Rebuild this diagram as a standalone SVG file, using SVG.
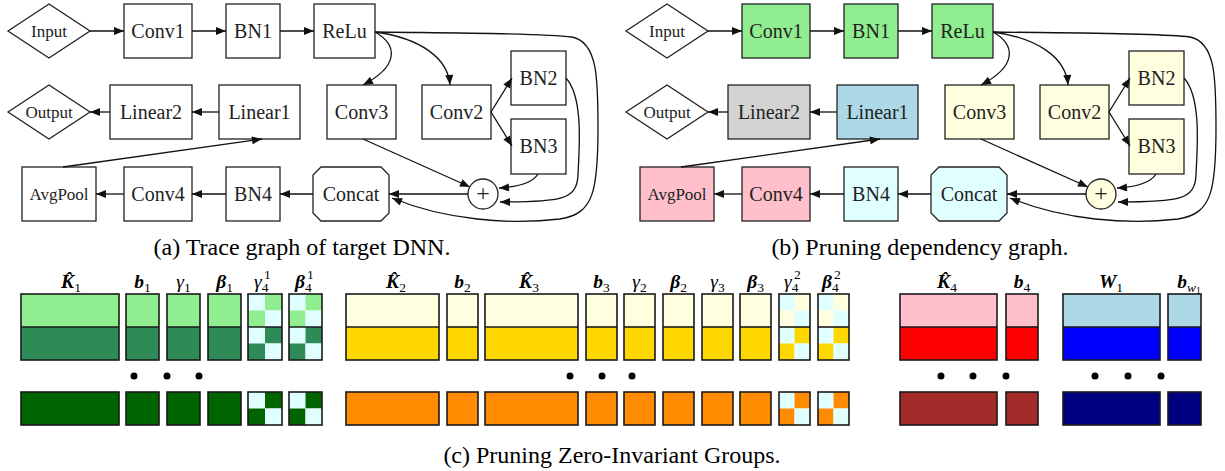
<svg xmlns="http://www.w3.org/2000/svg" width="1225" height="471" viewBox="0 0 1225 471">
<defs>
<style>
.n{stroke:#222;stroke-width:1.3;fill:#fff}
.t{font-family:"Liberation Serif","Times New Roman",serif;font-size:20px;text-anchor:middle;fill:#222}
.ts{font-size:17px}
.pl{font-size:24px}
.e{fill:none;stroke:#111;stroke-width:1.3;marker-end:url(#ah)}
.cap{font-family:"Liberation Serif","Times New Roman",serif;font-size:24px;text-anchor:middle;fill:#000}
.m{font-family:"Liberation Serif","Times New Roman",serif;font-size:19.5px;font-style:italic;fill:#000}
.bi{font-weight:bold}
.sub{font-size:13.5px;font-style:normal;font-weight:normal}
.blk{stroke:#1a1a1a;stroke-width:1.6;fill:none}
.dot{fill:#000}
.g1{fill:#90EE90}.g2{fill:#2E8B57}.g3{fill:#006400}
.y1{fill:#FFFFE0}.y2{fill:#FFD700}.y3{fill:#FF8C00}
.r1{fill:#FFC0CB}.r2{fill:#FF0000}.r3{fill:#A52A2A}
.b1{fill:#ADD8E6}.b2{fill:#0000FF}.b3{fill:#000080}
.c0{fill:#E0FFFF}
</style>
<marker id="ah" viewBox="0 0 10 8" markerWidth="11" markerHeight="8" refX="10" refY="4" orient="auto" markerUnits="userSpaceOnUse">
<path d="M0,0 L10,4 L0,8 z" fill="#111"/>
</marker>
</defs>
<rect width="1225" height="471" fill="#fff"/>

<!-- ===== Graph (a) ===== -->
<g id="graphA">
<g id="a_input"><polygon class="n" points="8,31 49,4 90,31 49,58"/><text class="t ts" x="49" y="37">Input</text></g>
<g id="a_conv1"><rect class="n" x="124" y="4" width="68" height="54"/><text class="t" x="158" y="38">Conv1</text></g>
<g id="a_bn1"><rect class="n" x="226" y="4" width="54" height="54"/><text class="t" x="253" y="38">BN1</text></g>
<g id="a_relu"><rect class="n" x="314" y="4" width="61" height="54"/><text class="t" x="344.5" y="38">ReLu</text></g>
<g id="a_output"><polygon class="n" points="8,112 49,85 90,112 49,139"/><text class="t ts" x="49" y="118">Output</text></g>
<g id="a_linear2"><rect class="n" x="110" y="85" width="82" height="54"/><text class="t" x="151" y="119">Linear2</text></g>
<g id="a_linear1"><rect class="n" x="219" y="85" width="81" height="54"/><text class="t" x="259.5" y="119">Linear1</text></g>
<g id="a_conv3"><rect class="n" x="327" y="85" width="69" height="54"/><text class="t" x="361.5" y="119">Conv3</text></g>
<g id="a_conv2"><rect class="n" x="422" y="85" width="69" height="54"/><text class="t" x="456.5" y="119">Conv2</text></g>
<g id="a_bn2"><rect class="n" x="511" y="51" width="55" height="54"/><text class="t" x="538.5" y="85">BN2</text></g>
<g id="a_bn3"><rect class="n" x="511" y="119" width="55" height="55"/><text class="t" x="538.5" y="153">BN3</text></g>
<g id="a_avgpool"><rect class="n" x="22" y="167" width="74" height="54"/><text class="t ts" x="59" y="200">AvgPool</text></g>
<g id="a_conv4"><rect class="n" x="124" y="167" width="68" height="54"/><text class="t" x="158" y="201">Conv4</text></g>
<g id="a_bn4"><rect class="n" x="226" y="167" width="54" height="54"/><text class="t" x="253" y="201">BN4</text></g>
<g id="a_concat"><polygon class="n" points="321,167 381,167 389,175 389,213 381,221 321,221 313,213 313,175"/><text class="t" x="351" y="201">Concat</text></g>
<g id="a_plus"><circle class="n" cx="483" cy="194" r="15"/><text class="t pl" x="483" y="201">+</text></g>
<g id="a_edges">
<path class="e" d="M90,31 L124,31"/>
<path class="e" d="M192,31 L226,31"/>
<path class="e" d="M280,31 L314,31"/>
<path class="e" d="M219,112 L192,112"/>
<path class="e" d="M110,112 L90,112"/>
<path class="e" d="M226,194 L192,194"/>
<path class="e" d="M124,194 L96,194"/>
<path class="e" d="M313,194 L280,194"/>
<path class="e" d="M468,194 L389,194"/>
<path class="e" d="M63,167 L262,139"/>
<path class="e" d="M375,32 C398,45 399,66 363,85"/>
<path class="e" d="M375,32 C420,38 448,58 450,85"/>
<path class="e" d="M491,112 L512,78"/>
<path class="e" d="M491,112 L512,146"/>
<path class="e" d="M363,139 L470,187"/>
<path class="e" d="M538,174 C532,184 516,187 499,188"/>
<path class="e" d="M566,78 C584,98 579,150 578,175 C577,200 560,202 500,202"/>
<path class="e" d="M375,32 C450,33 540,33 572,37 C598,42 598,80 598,128 C598,190 594,214 560,219 C510,225 445,220 392,198"/>
</g>
</g>

<!-- ===== Graph (b) ===== -->
<g id="graphB" transform="translate(618,0)">
<g id="b_input"><polygon class="n" points="8,31 49,4 90,31 49,58"/><text class="t ts" x="49" y="37">Input</text></g>
<g id="b_conv1"><rect class="n g1" x="124" y="4" width="68" height="54"/><text class="t" x="158" y="38">Conv1</text></g>
<g id="b_bn1"><rect class="n g1" x="226" y="4" width="54" height="54"/><text class="t" x="253" y="38">BN1</text></g>
<g id="b_relu"><rect class="n g1" x="314" y="4" width="61" height="54"/><text class="t" x="344.5" y="38">ReLu</text></g>
<g id="b_output"><polygon class="n" points="8,112 49,85 90,112 49,139"/><text class="t ts" x="49" y="118">Output</text></g>
<g id="b_linear2"><rect class="n" style="fill:#D3D3D3" x="110" y="85" width="82" height="54"/><text class="t" x="151" y="119">Linear2</text></g>
<g id="b_linear1"><rect class="n b1" x="219" y="85" width="81" height="54"/><text class="t" x="259.5" y="119">Linear1</text></g>
<g id="b_conv3"><rect class="n y1" x="327" y="85" width="69" height="54"/><text class="t" x="361.5" y="119">Conv3</text></g>
<g id="b_conv2"><rect class="n y1" x="422" y="85" width="69" height="54"/><text class="t" x="456.5" y="119">Conv2</text></g>
<g id="b_bn2"><rect class="n y1" x="511" y="51" width="55" height="54"/><text class="t" x="538.5" y="85">BN2</text></g>
<g id="b_bn3"><rect class="n y1" x="511" y="119" width="55" height="55"/><text class="t" x="538.5" y="153">BN3</text></g>
<g id="b_avgpool"><rect class="n r1" x="22" y="167" width="74" height="54"/><text class="t ts" x="59" y="200">AvgPool</text></g>
<g id="b_conv4"><rect class="n r1" x="124" y="167" width="68" height="54"/><text class="t" x="158" y="201">Conv4</text></g>
<g id="b_bn4"><rect class="n c0" x="226" y="167" width="54" height="54"/><text class="t" x="253" y="201">BN4</text></g>
<g id="b_concat"><polygon class="n c0" points="321,167 381,167 389,175 389,213 381,221 321,221 313,213 313,175"/><text class="t" x="351" y="201">Concat</text></g>
<g id="b_plus"><circle class="n y1" cx="483" cy="194" r="15"/><text class="t pl" x="483" y="201">+</text></g>
<g id="b_edges">
<path class="e" d="M90,31 L124,31"/>
<path class="e" d="M192,31 L226,31"/>
<path class="e" d="M280,31 L314,31"/>
<path class="e" d="M219,112 L192,112"/>
<path class="e" d="M110,112 L90,112"/>
<path class="e" d="M226,194 L192,194"/>
<path class="e" d="M124,194 L96,194"/>
<path class="e" d="M313,194 L280,194"/>
<path class="e" d="M468,194 L389,194"/>
<path class="e" d="M63,167 L262,139"/>
<path class="e" d="M375,32 C398,45 399,66 363,85"/>
<path class="e" d="M375,32 C420,38 448,58 450,85"/>
<path class="e" d="M491,112 L512,78"/>
<path class="e" d="M491,112 L512,146"/>
<path class="e" d="M363,139 L470,187"/>
<path class="e" d="M538,174 C532,184 516,187 499,188"/>
<path class="e" d="M566,78 C584,98 579,150 578,175 C577,200 560,202 500,202"/>
<path class="e" d="M375,32 C450,33 540,33 572,37 C598,42 598,80 598,128 C598,190 594,214 560,219 C510,225 445,220 392,198"/>
</g>
</g>

<text class="cap" x="302" y="255">(a) Trace graph of target DNN.</text>
<text class="cap" x="920" y="255">(b) Pruning dependency graph.</text>

<!-- ===== (c) Zero-invariant groups ===== -->
<g id="group1">
<rect class="g1" x="21" y="294" width="98" height="33"/><rect class="g2" x="21" y="327" width="98" height="33"/><rect class="blk" x="21" y="294" width="98" height="66"/><line class="blk" x1="21" y1="327" x2="119" y2="327"/>
<rect class="blk" style="fill:#006400" x="21" y="392" width="98" height="33"/>
<rect class="g1" x="126" y="294" width="33" height="33"/><rect class="g2" x="126" y="327" width="33" height="33"/><rect class="blk" x="126" y="294" width="33" height="66"/><line class="blk" x1="126" y1="327" x2="159" y2="327"/>
<rect class="blk" style="fill:#006400" x="126" y="392" width="33" height="33"/>
<rect class="g1" x="167" y="294" width="33" height="33"/><rect class="g2" x="167" y="327" width="33" height="33"/><rect class="blk" x="167" y="294" width="33" height="66"/><line class="blk" x1="167" y1="327" x2="200" y2="327"/>
<rect class="blk" style="fill:#006400" x="167" y="392" width="33" height="33"/>
<rect class="g1" x="208" y="294" width="33" height="33"/><rect class="g2" x="208" y="327" width="33" height="33"/><rect class="blk" x="208" y="294" width="33" height="66"/><line class="blk" x1="208" y1="327" x2="241" y2="327"/>
<rect class="blk" style="fill:#006400" x="208" y="392" width="33" height="33"/>
<g>
<rect class="c0" x="248" y="294" width="17" height="16.5"/><rect class="g1" x="265" y="294" width="17" height="16.5"/><rect class="g1" x="248" y="310.5" width="17" height="16.5"/><rect class="c0" x="265" y="310.5" width="17" height="16.5"/>
<rect class="c0" x="248" y="327" width="17" height="16.5"/><rect class="g2" x="265" y="327" width="17" height="16.5"/><rect class="g2" x="248" y="343.5" width="17" height="16.5"/><rect class="c0" x="265" y="343.5" width="17" height="16.5"/>
<rect class="blk" x="248" y="294" width="34" height="66"/><line class="blk" x1="248" y1="327" x2="282" y2="327"/>
<rect class="c0" x="248" y="392" width="17" height="16.5"/><rect class="g3" x="265" y="392" width="17" height="16.5"/><rect class="g3" x="248" y="408.5" width="17" height="16.5"/><rect class="c0" x="265" y="408.5" width="17" height="16.5"/>
<rect class="blk" x="248" y="392" width="34" height="33"/>
</g>
<g>
<rect class="c0" x="289" y="294" width="16.5" height="16.5"/><rect class="g1" x="305.5" y="294" width="16.5" height="16.5"/><rect class="g1" x="289" y="310.5" width="16.5" height="16.5"/><rect class="c0" x="305.5" y="310.5" width="16.5" height="16.5"/>
<rect class="c0" x="289" y="327" width="16.5" height="16.5"/><rect class="g2" x="305.5" y="327" width="16.5" height="16.5"/><rect class="g2" x="289" y="343.5" width="16.5" height="16.5"/><rect class="c0" x="305.5" y="343.5" width="16.5" height="16.5"/>
<rect class="blk" x="289" y="294" width="33" height="66"/><line class="blk" x1="289" y1="327" x2="322" y2="327"/>
<rect class="c0" x="289" y="392" width="16.5" height="16.5"/><rect class="g3" x="305.5" y="392" width="16.5" height="16.5"/><rect class="g3" x="289" y="408.5" width="16.5" height="16.5"/><rect class="c0" x="305.5" y="408.5" width="16.5" height="16.5"/>
<rect class="blk" x="289" y="392" width="33" height="33"/>
</g>
<circle class="dot" cx="134" cy="376" r="3.5"/><circle class="dot" cx="167" cy="376" r="3.5"/><circle class="dot" cx="199" cy="376" r="3.5"/>
<text class="m" x="71" y="288" text-anchor="middle"><tspan class="bi">K&#x302;</tspan><tspan class="sub" dy="4">1</tspan></text>
<text class="m" x="142.5" y="288" text-anchor="middle"><tspan class="bi">b</tspan><tspan class="sub" dy="4">1</tspan></text>
<text class="m" x="183.5" y="288" text-anchor="middle"><tspan>γ</tspan><tspan class="sub" dy="4">1</tspan></text>
<text class="m" x="224.5" y="288" text-anchor="middle"><tspan class="bi">β</tspan><tspan class="sub" dy="4">1</tspan></text>
<text class="m" x="254" y="288">γ<tspan class="sub" dy="4">4</tspan><tspan class="sub" x="264" dy="-13">1</tspan></text>
<text class="m bi" x="295" y="288">β<tspan class="sub" dy="4">4</tspan><tspan class="sub" x="307" dy="-13">1</tspan></text>
</g>

<g id="group2">
<rect class="y1" x="346" y="294" width="93" height="33"/><rect class="y2" x="346" y="327" width="93" height="33"/><rect class="blk" x="346" y="294" width="93" height="66"/><line class="blk" x1="346" y1="327" x2="439" y2="327"/><rect class="blk" style="fill:#FF8C00" x="346" y="392" width="93" height="33"/>
<rect class="y1" x="447" y="294" width="31" height="33"/><rect class="y2" x="447" y="327" width="31" height="33"/><rect class="blk" x="447" y="294" width="31" height="66"/><line class="blk" x1="447" y1="327" x2="478" y2="327"/><rect class="blk" style="fill:#FF8C00" x="447" y="392" width="31" height="33"/>
<rect class="y1" x="485" y="294" width="93" height="33"/><rect class="y2" x="485" y="327" width="93" height="33"/><rect class="blk" x="485" y="294" width="93" height="66"/><line class="blk" x1="485" y1="327" x2="578" y2="327"/><rect class="blk" style="fill:#FF8C00" x="485" y="392" width="93" height="33"/>
<rect class="y1" x="586" y="294" width="31" height="33"/><rect class="y2" x="586" y="327" width="31" height="33"/><rect class="blk" x="586" y="294" width="31" height="66"/><line class="blk" x1="586" y1="327" x2="617" y2="327"/><rect class="blk" style="fill:#FF8C00" x="586" y="392" width="31" height="33"/>
<rect class="y1" x="624" y="294" width="31" height="33"/><rect class="y2" x="624" y="327" width="31" height="33"/><rect class="blk" x="624" y="294" width="31" height="66"/><line class="blk" x1="624" y1="327" x2="655" y2="327"/><rect class="blk" style="fill:#FF8C00" x="624" y="392" width="31" height="33"/>
<rect class="y1" x="663" y="294" width="31" height="33"/><rect class="y2" x="663" y="327" width="31" height="33"/><rect class="blk" x="663" y="294" width="31" height="66"/><line class="blk" x1="663" y1="327" x2="694" y2="327"/><rect class="blk" style="fill:#FF8C00" x="663" y="392" width="31" height="33"/>
<rect class="y1" x="702" y="294" width="31" height="33"/><rect class="y2" x="702" y="327" width="31" height="33"/><rect class="blk" x="702" y="294" width="31" height="66"/><line class="blk" x1="702" y1="327" x2="733" y2="327"/><rect class="blk" style="fill:#FF8C00" x="702" y="392" width="31" height="33"/>
<rect class="y1" x="740" y="294" width="31" height="33"/><rect class="y2" x="740" y="327" width="31" height="33"/><rect class="blk" x="740" y="294" width="31" height="66"/><line class="blk" x1="740" y1="327" x2="771" y2="327"/><rect class="blk" style="fill:#FF8C00" x="740" y="392" width="31" height="33"/>
<g>
<rect class="c0" x="779" y="294" width="15.5" height="16.5"/><rect class="y1" x="794.5" y="294" width="15.5" height="16.5"/><rect class="y1" x="779" y="310.5" width="15.5" height="16.5"/><rect class="c0" x="794.5" y="310.5" width="15.5" height="16.5"/>
<rect class="c0" x="779" y="327" width="15.5" height="16.5"/><rect class="y2" x="794.5" y="327" width="15.5" height="16.5"/><rect class="y2" x="779" y="343.5" width="15.5" height="16.5"/><rect class="c0" x="794.5" y="343.5" width="15.5" height="16.5"/>
<rect class="blk" x="779" y="294" width="31" height="66"/><line class="blk" x1="779" y1="327" x2="810" y2="327"/>
<rect class="c0" x="779" y="392" width="15.5" height="16.5"/><rect class="y3" x="794.5" y="392" width="15.5" height="16.5"/><rect class="y3" x="779" y="408.5" width="15.5" height="16.5"/><rect class="c0" x="794.5" y="408.5" width="15.5" height="16.5"/>
<rect class="blk" x="779" y="392" width="31" height="33"/>
</g>
<g>
<rect class="c0" x="818" y="294" width="15.5" height="16.5"/><rect class="y1" x="833.5" y="294" width="15.5" height="16.5"/><rect class="y1" x="818" y="310.5" width="15.5" height="16.5"/><rect class="c0" x="833.5" y="310.5" width="15.5" height="16.5"/>
<rect class="c0" x="818" y="327" width="15.5" height="16.5"/><rect class="y2" x="833.5" y="327" width="15.5" height="16.5"/><rect class="y2" x="818" y="343.5" width="15.5" height="16.5"/><rect class="c0" x="833.5" y="343.5" width="15.5" height="16.5"/>
<rect class="blk" x="818" y="294" width="31" height="66"/><line class="blk" x1="818" y1="327" x2="849" y2="327"/>
<rect class="c0" x="818" y="392" width="15.5" height="16.5"/><rect class="y3" x="833.5" y="392" width="15.5" height="16.5"/><rect class="y3" x="818" y="408.5" width="15.5" height="16.5"/><rect class="c0" x="833.5" y="408.5" width="15.5" height="16.5"/>
<rect class="blk" x="818" y="392" width="31" height="33"/>
</g>
<circle class="dot" cx="570" cy="376" r="3.5"/><circle class="dot" cx="602" cy="376" r="3.5"/><circle class="dot" cx="632" cy="376" r="3.5"/>
<text class="m" x="396" y="288" text-anchor="middle"><tspan class="bi">K&#x302;</tspan><tspan class="sub" dy="4">2</tspan></text>
<text class="m" x="462.5" y="288" text-anchor="middle"><tspan class="bi">b</tspan><tspan class="sub" dy="4">2</tspan></text>
<text class="m" x="529" y="288" text-anchor="middle"><tspan class="bi">K&#x302;</tspan><tspan class="sub" dy="4">3</tspan></text>
<text class="m" x="601.5" y="288" text-anchor="middle"><tspan class="bi">b</tspan><tspan class="sub" dy="4">3</tspan></text>
<text class="m" x="639.5" y="288" text-anchor="middle"><tspan>γ</tspan><tspan class="sub" dy="4">2</tspan></text>
<text class="m" x="678.5" y="288" text-anchor="middle"><tspan class="bi">β</tspan><tspan class="sub" dy="4">2</tspan></text>
<text class="m" x="717.5" y="288" text-anchor="middle"><tspan>γ</tspan><tspan class="sub" dy="4">3</tspan></text>
<text class="m" x="755.5" y="288" text-anchor="middle"><tspan class="bi">β</tspan><tspan class="sub" dy="4">3</tspan></text>
<text class="m" x="784" y="288">γ<tspan class="sub" dy="4">4</tspan><tspan class="sub" x="794" dy="-13">2</tspan></text>
<text class="m bi" x="822" y="288">β<tspan class="sub" dy="4">4</tspan><tspan class="sub" x="834" dy="-13">2</tspan></text>
</g>

<g id="group3">
<rect class="r1" x="900" y="294" width="97" height="33"/><rect class="r2" x="900" y="327" width="97" height="33"/><rect class="blk" x="900" y="294" width="97" height="66"/><line class="blk" x1="900" y1="327" x2="997" y2="327"/><rect class="blk" style="fill:#A52A2A" x="900" y="392" width="97" height="33"/>
<rect class="r1" x="1006" y="294" width="32" height="33"/><rect class="r2" x="1006" y="327" width="32" height="33"/><rect class="blk" x="1006" y="294" width="32" height="66"/><line class="blk" x1="1006" y1="327" x2="1038" y2="327"/><rect class="blk" style="fill:#A52A2A" x="1006" y="392" width="32" height="33"/>
<circle class="dot" cx="941" cy="376" r="3.5"/><circle class="dot" cx="973" cy="376" r="3.5"/><circle class="dot" cx="1006" cy="376" r="3.5"/>
<text class="m" x="947" y="288" text-anchor="middle"><tspan class="bi">K&#x302;</tspan><tspan class="sub" dy="4">4</tspan></text>
<text class="m" x="1022" y="288" text-anchor="middle"><tspan class="bi">b</tspan><tspan class="sub" dy="4">4</tspan></text>
</g>

<g id="group4">
<rect class="b1" x="1063" y="294" width="97" height="33"/><rect class="b2" x="1063" y="327" width="97" height="33"/><rect class="blk" x="1063" y="294" width="97" height="66"/><line class="blk" x1="1063" y1="327" x2="1160" y2="327"/><rect class="blk" style="fill:#000080" x="1063" y="392" width="97" height="33"/>
<rect class="b1" x="1168" y="294" width="33" height="33"/><rect class="b2" x="1168" y="327" width="33" height="33"/><rect class="blk" x="1168" y="294" width="33" height="66"/><line class="blk" x1="1168" y1="327" x2="1201" y2="327"/><rect class="blk" style="fill:#000080" x="1168" y="392" width="33" height="33"/>
<circle class="dot" cx="1095" cy="376" r="3.5"/><circle class="dot" cx="1128" cy="376" r="3.5"/><circle class="dot" cx="1161" cy="376" r="3.5"/>
<text class="m" x="1111" y="288" text-anchor="middle"><tspan class="bi">W</tspan><tspan class="sub" dy="4">1</tspan></text>
<text class="m" x="1189" y="288" text-anchor="middle"><tspan class="bi">b</tspan><tspan class="sub" dy="4" style="font-style:italic">w</tspan><tspan class="sub" style="font-size:9.5px" dy="2">1</tspan></text>
</g>

<text class="cap" x="612" y="463">(c) Pruning Zero-Invariant Groups.</text>
</svg>
